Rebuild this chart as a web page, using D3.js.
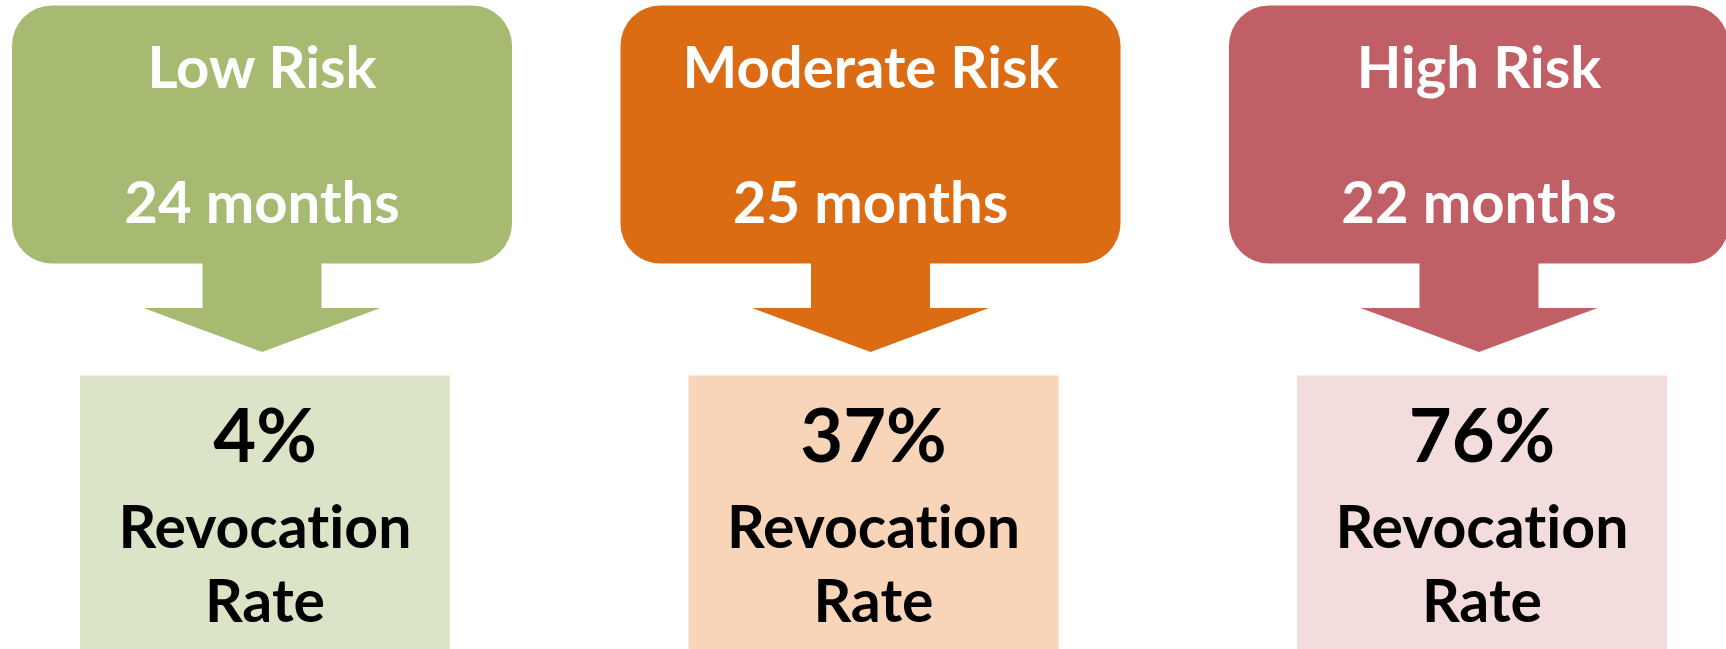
<!DOCTYPE html>
<html>
<head>
<meta charset="utf-8">
<script src="https://cdn.jsdelivr.net/npm/d3@7"></script>
<style>
  body { margin: 0; background: #fff; }
  svg { display: block; }
  text {
    font-family: Lato, "Open Sans", sans-serif; font-weight: 700; text-anchor: middle;
    font-variant-ligatures: none; font-feature-settings: "liga" 0, "clig" 0;
  }
</style>
</head>
<body>
<script>
// data
const categories = ['Low Risk', 'Moderate Risk', 'High Risk']
const months = [24, 25, 22]
const rates = [4, 37, 76]
const darkColors = ['#a7ba72', '#dc6c14', '#c05f65']
const lightColors = ['#dce4c7', '#f8d5b9', '#f2dddc']

const width = 1726
const height = 649

const data = categories.map((c, i) => ({
  cat: c, months: months[i], rate: rates[i], dark: darkColors[i], light: lightColors[i]
}))

const svg = d3.select('body').append('svg')
  .attr('width', width)
  .attr('height', height)

// center of each column
const x = d3.scalePoint()
  .domain(categories)
  .range([262, 1479])

const boxW = 500, boxTop = 5.5, boxBottom = 263.5
const stemW = 119, headW = 237, shoulderY = 308, tipY = 352
const lightW = 370, lightTop = 375.5, lightShift = 3

const col = svg.selectAll('g.col')
  .data(data)
  .enter()
  .append('g')
  .attr('class', 'col')
  .attr('transform', d => `translate(${x(d.cat)},0)`)

// top rounded box
col.append('rect')
  .attr('x', -boxW / 2)
  .attr('y', boxTop)
  .attr('width', boxW)
  .attr('height', boxBottom - boxTop)
  .attr('rx', 40)
  .attr('fill', d => d.dark)

// down arrow
col.append('path')
  .attr('d', `M${-stemW / 2},${boxBottom - 1} L${stemW / 2},${boxBottom - 1} L${stemW / 2},${shoulderY}
    L${headW / 2},${shoulderY} L0,${tipY} L${-headW / 2},${shoulderY} L${-stemW / 2},${shoulderY} Z`)
  .attr('fill', d => d.dark)

// result box
col.append('rect')
  .attr('x', -lightW / 2 + lightShift)
  .attr('y', lightTop)
  .attr('width', lightW)
  .attr('height', height - lightTop + 2)
  .attr('fill', d => d.light)

col.append('text')
  .attr('y', 88)
  .attr('fill', '#fff')
  .style('font-size', '58px')
  .text(d => d.cat)

col.append('text')
  .attr('y', 223)
  .attr('fill', '#fff')
  .style('font-size', '58px')
  .text(d => d.months + ' months')

col.append('text')
  .attr('x', lightShift)
  .attr('y', 462)
  .attr('fill', '#000')
  .style('font-size', '74px')
  .text(d => d.rate + '%')

col.append('text')
  .attr('x', lightShift)
  .attr('y', 548)
  .attr('fill', '#000')
  .style('font-size', '59px')
  .text('Revocation')

col.append('text')
  .attr('x', lightShift)
  .attr('y', 622)
  .attr('fill', '#000')
  .style('font-size', '59px')
  .text('Rate')
</script>
</body>
</html>
